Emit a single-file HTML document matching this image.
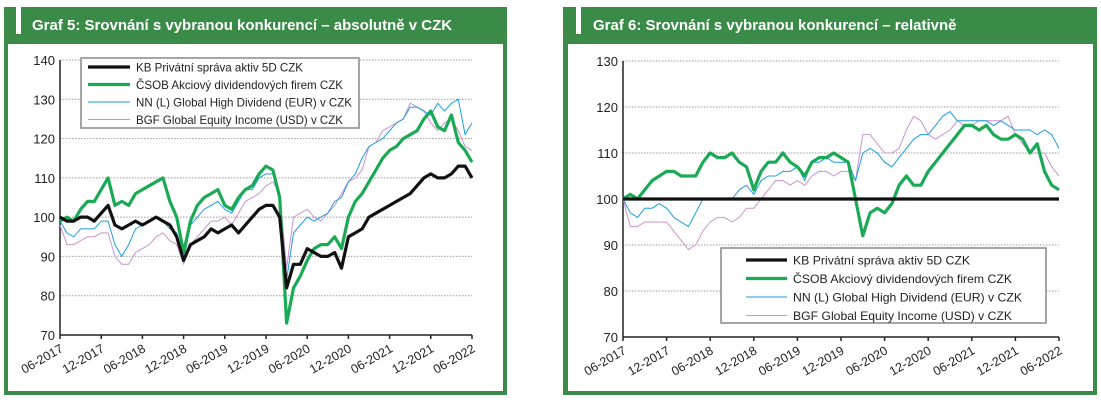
<!DOCTYPE html>
<html><head><meta charset="utf-8">
<style>
body{margin:0;width:1101px;height:402px;background:#fff;position:relative;overflow:hidden;font-family:"Liberation Sans",sans-serif}
.panel{position:absolute;background:#3a8a48}
.inner{position:absolute;background:#fff}
.notch{position:absolute;background:#fff}
.title{position:absolute;color:#fff;font-weight:bold;font-size:15px;white-space:nowrap}
svg{position:absolute;left:0;top:0}
</style></head><body>
<div class="panel" style="left:4px;top:7px;width:503px;height:388px"></div>
<div class="inner" style="left:8px;top:44px;width:495px;height:347px"></div>
<div class="notch" style="left:16px;top:7px;width:5px;height:27px"></div>
<div class="title" style="left:32px;top:17px">Graf 5: Srovnání s vybranou konkurencí – absolutně v CZK</div>
<div class="panel" style="left:563px;top:7px;width:534px;height:388px"></div>
<div class="inner" style="left:568px;top:44px;width:525px;height:347px"></div>
<div class="notch" style="left:576px;top:7px;width:5px;height:27px"></div>
<div class="title" style="left:593px;top:17px">Graf 6: Srovnání s vybranou konkurencí – relativně</div>
<svg id="chart" width="1101" height="402"></svg>
<script>
const xLabels=["06-2017","12-2017","06-2018","12-2018","06-2019","12-2019","06-2020","12-2020","06-2021","12-2021","06-2022"];
const seriesNames=["KB Privátní správa aktiv 5D CZK","ČSOB Akciový dividendových firem CZK","NN (L) Global High Dividend (EUR) v CZK","BGF Global Equity Income (USD) v CZK"];
const leftYTicks=[70,80,90,100,110,120,130,140];
const rightYTicks=[70,80,90,100,110,120,130];
const absKB=[100,99,99,100,100,99,101,103,98,97,98,99,98,99,100,99,98,95,89,93,94,95,97,96,97,98,96,98,100,102,103,103,100,82,88,88,92,91,90,90,91,87,95,96,97,100,101,102,103,104,105,106,108,110,111,110,110,111,113,113,110];
const absCSOB=[99,100,99,102,104,104,107,110,103,104,103,106,107,108,109,110,104,100,91,99,103,105,106,107,103,102,105,107,108,111,113,112,105,73,82,85,89,92,93,93,95,92,100,104,106,109,112,115,117,118,120,121,122,125,127,123,122,126,119,117,114];
const absNN=[99,96,95,97,97,97,99,99,93,90,93,97,98,99,100,99,97,96,89,98,100,102,103,104,102,101,104,107,107,110,111,111,105,84,96,98,100,99,100,101,104,105,109,111,115,118,119,120,122,124,125,128,128,127,126,129,127,129,130,121,124];
const absBGF=[98,93,93,94,95,95,96,96,90,88,88,91,92,93,95,96,94,93,88,93,95,97,99,99,100,98,101,104,105,106,108,109,106,87,100,101,102,100,99,101,103,106,109,110,112,118,119,122,123,124,125,129,128,127,124,122,124,125,122,118,117];
const relKB=[100,100,100,100,100,100,100,100,100,100,100,100,100,100,100,100,100,100,100,100,100,100,100,100,100,100,100,100,100,100,100,100,100,100,100,100,100,100,100,100,100,100,100,100,100,100,100,100,100,100,100,100,100,100,100,100,100,100,100,100,100];
const relCSOB=[100,101,100,102,104,105,106,106,105,105,105,108,110,109,109,110,108,107,102,106,108,108,110,108,107,105,108,109,109,110,109,108,100,92,97,98,97,99,103,105,103,103,106,108,110,112,114,116,116,115,116,114,113,113,114,113,110,112,106,103,102];
const relNN=[100,97,96,98,98,99,98,96,95,94,97,100,100,100,100,100,102,103,101,104,105,105,106,106,107,104,108,108,109,108,108,108,104,110,111,110,108,107,109,111,113,114,114,116,118,119,117,117,117,117,117,116,117,116,115,115,115,114,115,114,111];
const relBGF=[100,94,94,95,95,95,95,93,91,89,90,93,95,96,96,95,96,98,98,100,102,104,104,103,104,103,105,106,106,105,106,106,104,114,114,112,110,110,111,115,118,117,114,113,114,115,117,116,116,117,117,117,117,118,114,112,110,110,110,107,105];

const svg=document.getElementById('chart');
const NS='http://www.w3.org/2000/svg';
function mk(tag,attrs){const e=document.createElementNS(NS,tag);for(const k in attrs)e.setAttribute(k,attrs[k]);svg.appendChild(e);return e;}
const colors=["#111111","#1aaa55","#1a9ee0","#cc92cc"];
const widths=[3.2,3.2,1,1];

function drawChart(cfg){
  const {x0,x1,y0,y1,vmin,vmax,ticks,series,legend,prefix}=cfg;
  const n=series[0].length;
  const sx=i=>x0+(x1-x0)*i/(n-1);
  const sy=v=>y1-(v-vmin)/(vmax-vmin)*(y1-y0);
  ticks.forEach(t=>{
    if(t!==vmin){
      const g=mk('line',{x1:x0,x2:x1,y1:sy(t),y2:sy(t),stroke:'#999',"stroke-width":1,"stroke-dasharray":"1.5,1.5"});
      
      
    }
    const tl=mk('text',{x:x0-5,y:sy(t)+5,"text-anchor":"end","font-size":"13","fill":"#222"});
    tl.textContent=t;
    
    
  });
  xLabels.forEach((l,i)=>{
    const x=x0+(x1-x0)*i/(xLabels.length-1);
    const tk=mk('line',{x1:x,x2:x,y1:y1,y2:y1+4,stroke:'#222',"stroke-width":1.5});
    
    
    const tx=mk('text',{x:x+4,y:y1+16,"text-anchor":"end","font-size":"12.5","fill":"#222",transform:`rotate(-30 ${x+4} ${y1+16})`});
    tx.textContent=l;
    
    
  });
  const ya=mk('line',{x1:x0,x2:x0,y1:y0,y2:y1,stroke:'#222',"stroke-width":1.5});
  
  
  const xa=mk('line',{x1:x0,x2:x1,y1:y1,y2:y1,stroke:'#222',"stroke-width":1.5});
  
  
  [3,2,1,0].forEach(s=>{
    const pts=series[s].map((v,i)=>sx(i).toFixed(1)+','+sy(v).toFixed(1)).join(' ');
    const p=mk('polyline',{points:pts,fill:'none',stroke:colors[s],"stroke-width":widths[s],"stroke-linejoin":"round"});
    
    
  });
  const lb=mk('rect',{x:legend.x,y:legend.y,width:legend.w,height:legend.h,fill:'#fff',stroke:'#888',"stroke-width":1.5});
  
  
  seriesNames.forEach((nm,i)=>{
    const yy=legend.y+legend.r0+i*legend.dy;
    const ll=mk('line',{x1:legend.lx,x2:legend.lx+legend.lw,y1:yy,y2:yy,stroke:colors[i],"stroke-width":widths[i]});
    
    
    const lt=mk('text',{x:legend.lx+legend.lw+6,y:yy+4.5,"font-size":"12","fill":"#222",textLength:legend.tl[i],lengthAdjust:"spacingAndGlyphs"});
    lt.textContent=nm;
    
    
  });
}
drawChart({prefix:'left',x0:60,x1:472,y0:60,y1:335,vmin:70,vmax:140,ticks:leftYTicks,
  series:[absKB,absCSOB,absNN,absBGF],
  legend:{x:81,y:58,w:278,h:70,r0:9,dy:17.5,lx:88,lw:42,tl:[167,207,216,207]}});
drawChart({prefix:'right',x0:623,x1:1059,y0:61,y1:337,vmin:70,vmax:130,ticks:rightYTicks,
  series:[relKB,relCSOB,relNN,relBGF],
  legend:{x:721,y:248,w:325,h:75,r0:12,dy:18.5,lx:746,lw:41,tl:[177,219,229,219]}});
</script>
</body></html>
